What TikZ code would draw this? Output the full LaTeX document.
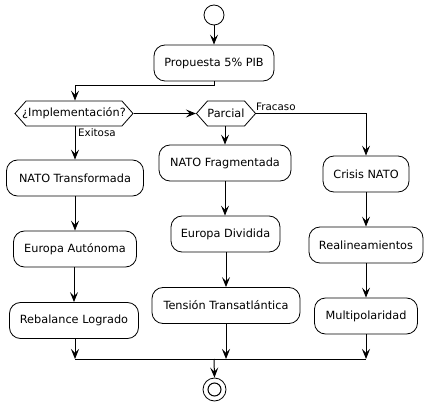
\documentclass[tikz,border=0pt]{standalone}
\usepackage{fontspec}
\setmainfont{DejaVu Sans}
\usetikzlibrary{arrows.meta,shapes.symbols}
\begin{document}
\begin{tikzpicture}[x=1pt,y=-1pt,
  act/.style={draw,line width=0.8pt,rounded corners=11pt,minimum height=36pt,inner xsep=0pt,font=\fontsize{11.3}{13}\selectfont},
  dec/.style={draw,line width=0.8pt,shape=signal,signal to=west and east,signal pointer angle=97,minimum height=25pt,inner xsep=0pt,inner ysep=0pt,font=\fontsize{11.3}{13}\selectfont},
  flow/.style={line width=1pt,-{Stealth[length=10pt,width=8pt,inset=4pt]}},
  seg/.style={line width=1pt},
  lbl/.style={font=\fontsize{10.3}{12}\selectfont,inner sep=0pt}]
\useasboundingbox (0,0) rectangle (428,406);
\node[draw,line width=0.8pt,circle,minimum size=20pt,inner sep=0pt] (start) at (214,15) {};
\node[act,minimum width=120pt] (prop) at (214,63) {Propuesta 5\% PIB};
\node[dec,minimum width=118pt,inner xsep=-4.5pt] (impl) at (74,113.5) {¿Implementación?};
\node[dec,minimum width=58pt] (parc) at (226,113.5) {Parcial};
\node[act,minimum width=137pt] (nt) at (75,178) {NATO Transformada};
\node[act,minimum width=123pt] (ea) at (75,249) {Europa Autónoma};
\node[act,minimum width=129pt] (rl) at (74,320.5) {Rebalance Logrado};
\node[act,minimum width=132pt] (nf) at (225,163) {NATO Fragmentada};
\node[act,minimum width=109pt] (ed) at (225.5,234) {Europa Dividida};
\node[act,minimum width=148pt] (tt) at (226,305.5) {Tensión Transatlántica};
\node[act,minimum width=86pt] (cn) at (366,174) {Crisis NATO};
\node[act,minimum width=114pt] (re) at (366,245) {Realineamientos};
\node[act,minimum width=103pt] (mp) at (366,316) {Multipolaridad};
\node[draw,line width=0.8pt,circle,minimum size=23pt,inner sep=0pt] (stop) at (214.5,389.5) {};
\node[draw,line width=1pt,circle,minimum size=13pt,inner sep=0pt] (stopin) at (214.5,389.5) {};
\coordinate (k1) at (214,86);
\coordinate (k2) at (75,86);
\coordinate (m1) at (75,359);
\coordinate (m2) at (226,359);
\coordinate (m3) at (366,359);
\coordinate (m0) at (214,359);
\draw[flow] (start) -- (prop);
\draw[seg] (prop.south) -- (k1) -- (k2);
\draw[flow] (k2) -- (k2 |- impl.north);
\draw[flow] (impl.east) -- (parc.west);
\draw[flow] (impl.south -| nt.north) -- (nt.north);
\draw[flow] (parc.south -| nf.north) -- (nf.north);
\draw[flow] (parc.east) -| (cn.north);
\draw[flow] (nt) -- (ea);
\draw[flow] (ea.south -| rl.north) -- (rl.north);
\draw[flow] (nf) -- (nf |- ed.north);
\draw[flow] (ed.south -| tt.north) -- (tt.north);
\draw[flow] (cn) -- (re);
\draw[flow] (re) -- (mp);
\draw[flow] (rl.south -| m1) -- (m1);
\draw[flow] (tt.south -| m2) -- (m2);
\draw[flow] (mp.south -| m3) -- (m3);
\draw[seg] (m1) -- (m3);
\draw[flow] (m0) -- (stop.north);
\node[lbl,anchor=north west] (lex) at (78,128) {Exitosa};
\node[lbl,anchor=south west] (lfr) at (256,111) {Fracaso};
\end{tikzpicture}
\end{document}
